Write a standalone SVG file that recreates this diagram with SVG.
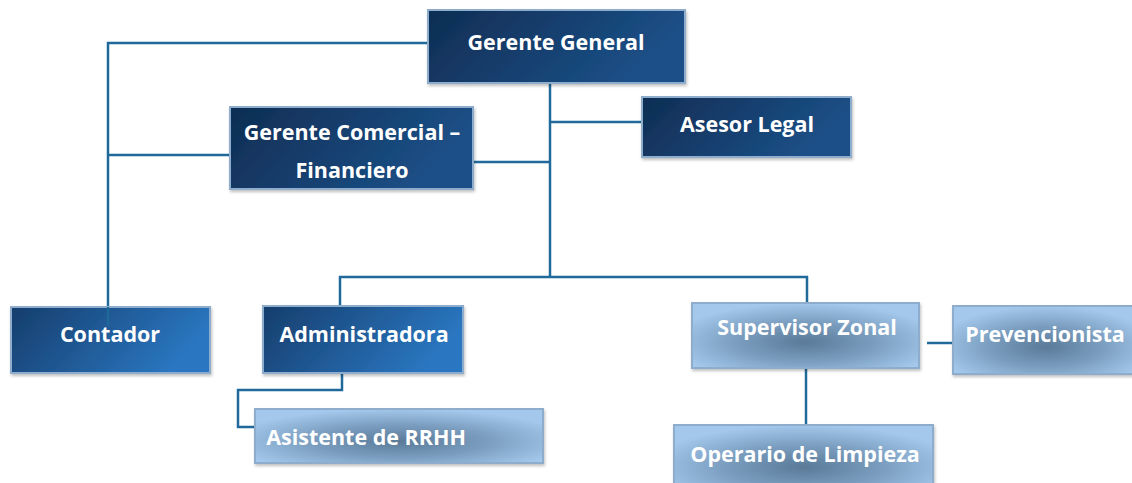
<svg xmlns="http://www.w3.org/2000/svg" width="1132" height="483" viewBox="0 0 1132 483">
<defs>
<linearGradient id="dk" x1="0" y1="0" x2="1" y2="0.3"><stop offset="0" stop-color="#0f2d53"/><stop offset="1" stop-color="#1c5088"/></linearGradient>
<linearGradient id="md" x1="0" y1="0" x2="1" y2="0.3"><stop offset="0" stop-color="#163d6c"/><stop offset="1" stop-color="#2a76c0"/></linearGradient>
<radialGradient id="lt" cx="0.5" cy="0.6" r="0.6" fx="0.5" fy="0.6"><stop offset="0" stop-color="#5a7a98"/><stop offset="0.5" stop-color="#7a9dbf"/><stop offset="1" stop-color="#a3c8eb"/></radialGradient>
<filter id="sh" x="-5%" y="-10%" width="112%" height="125%"><feDropShadow dx="1" dy="2" stdDeviation="1.5" flood-color="#000" flood-opacity="0.25"/></filter>
</defs>
<style>
.box{stroke:#8eaccb;stroke-width:2;filter:url(#sh)}
.d{fill:url(#dk)}
.m{fill:url(#md)}
.l{fill:url(#lt)}
text{font-family:"Open Sans","Liberation Sans",Arial,sans-serif;font-weight:bold;font-size:21.5px;fill:#fff;text-anchor:middle}
.c{fill:none;stroke:#1f6a9b;stroke-width:2.5}
</style>
<rect width="1132" height="483" fill="#fff"/>
<g id="connectors">
<path class="c" d="M550 83 V277"/>
<path class="c" d="M550 122 H642"/>
<path class="c" d="M473 162 H550"/>
<path class="c" d="M428 43 H108 V307"/>
<path class="c" d="M230 155 H108"/>
<path class="c" d="M340 306 V277 H807 V303"/>
<path class="c" d="M342 373 V390 H238 V427 H255"/>
<path class="c" d="M806 368 V425"/>
<path class="c" d="M927 343 H953"/>
</g>
<g id="gerente-general"><rect class="box d" x="428" y="10" width="257" height="73"/><text x="556" y="50">Gerente General</text></g>
<g id="gerente-comercial"><rect class="box d" x="230" y="107" width="243" height="82"/><text x="352" y="140">Gerente Comercial –</text><text x="352" y="178">Financiero</text></g>
<g id="asesor-legal"><rect class="box d" x="642" y="97" width="209" height="60"/><text x="747" y="132">Asesor Legal</text></g>
<g id="contador"><rect class="box m" x="11" y="307" width="199" height="66"/><path class="c" d="M108 307 V326"/><text x="110" y="342">Contador</text></g>
<g id="administradora"><rect class="box m" x="263" y="306" width="200" height="67"/><text x="364" y="342">Administradora</text></g>
<g id="asistente-rrhh"><rect class="box l" x="255" y="409" width="288" height="54"/><text x="366" y="445">Asistente de RRHH</text></g>
<g id="supervisor-zonal"><rect class="box l" x="692" y="303" width="227" height="65"/><text x="807" y="335">Supervisor Zonal</text></g>
<g id="prevencionista"><rect class="box l" x="953" y="306" width="185" height="68"/><text x="1045" y="342">Prevencionista</text></g>
<g id="operario-limpieza"><rect class="box l" x="674" y="425" width="259" height="70"/><text x="805" y="462">Operario de Limpieza</text></g>
</svg>
